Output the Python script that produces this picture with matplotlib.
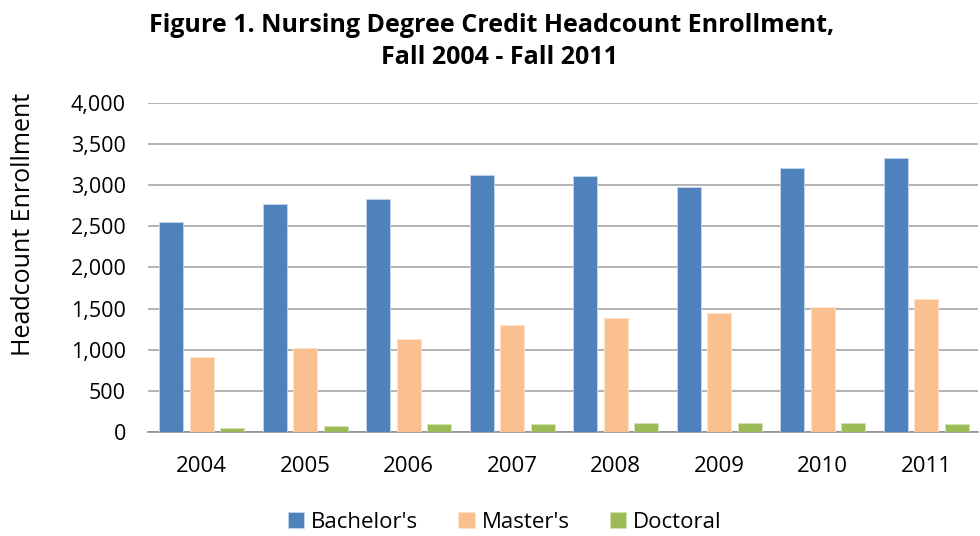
import numpy as np
import matplotlib.pyplot as plt

# Fall enrollment by degree level
years = ['2004', '2005', '2006', '2007', '2008', '2009', '2010', '2011']
bachelors = [2555, 2772, 2833, 3129, 3117, 2975, 3210, 3336]
masters = [917, 1026, 1135, 1306, 1386, 1452, 1525, 1622]
doctoral = [45, 78, 94, 94, 109, 109, 109, 94]

plt.rcParams['font.family'] = ['Open Sans', 'DejaVu Sans']

fig = plt.figure(figsize=(9.8, 5.36), dpi=100)
ax = fig.add_axes([0.151, 0.194, 0.847, 0.614])

x = np.arange(len(years))
w = 0.23
step = 0.295
ax.bar(x - step, bachelors, w, color='#4F81BD', edgecolor='#C5D5EA', linewidth=0.6, label="Bachelor's", zorder=3)
ax.bar(x, masters, w, color='#FAC090', edgecolor='#FDE3CC', linewidth=0.6, label="Master's", zorder=3)
ax.bar(x + step, doctoral, w, color='#9BBB59', edgecolor='#D2E2B4', linewidth=0.6, label='Doctoral', zorder=3)

ax.set_xlim(-0.52, 7.5)
ax.set_ylim(0, 4000)
ax.set_yticks(np.arange(0, 4001, 500))
ax.set_yticklabels(['{:,}'.format(v) for v in range(0, 4001, 500)])
ax.set_xticks(x)
ax.set_xticklabels(years)
ax.yaxis.grid(True, color='#A6A6A6', linewidth=1.2, zorder=0)
ax.set_axisbelow(True)
for s in ['top', 'right', 'left']:
    ax.spines[s].set_visible(False)
ax.spines['bottom'].set_color('#909090')
ax.spines['bottom'].set_linewidth(1.2)
ax.tick_params(axis='both', length=0, colors='#000000')
ax.tick_params(axis='x', pad=17, labelsize=16)
ax.tick_params(axis='y', pad=16, labelsize=15.5)

fig.text(0.0235, 0.582, 'Headcount Enrollment', rotation=90, ha='center', va='center', fontsize=18)

fig.text(0.502, 0.953, 'Figure 1. Nursing Degree Credit Headcount Enrollment,',
         ha='center', va='center', fontsize=18, fontweight='bold')
fig.text(0.51, 0.892, 'Fall 2004 - Fall 2011',
         ha='center', va='center', fontsize=18, fontweight='bold')

fig.legend(*ax.get_legend_handles_labels(), loc='center', bbox_to_anchor=(0.515, 0.026), ncol=3,
           frameon=False, fontsize=16, handlelength=0.75, handleheight=0.75, handletextpad=0.3,
           columnspacing=1.8, borderpad=0)

fig.savefig('out.png', dpi=100)
